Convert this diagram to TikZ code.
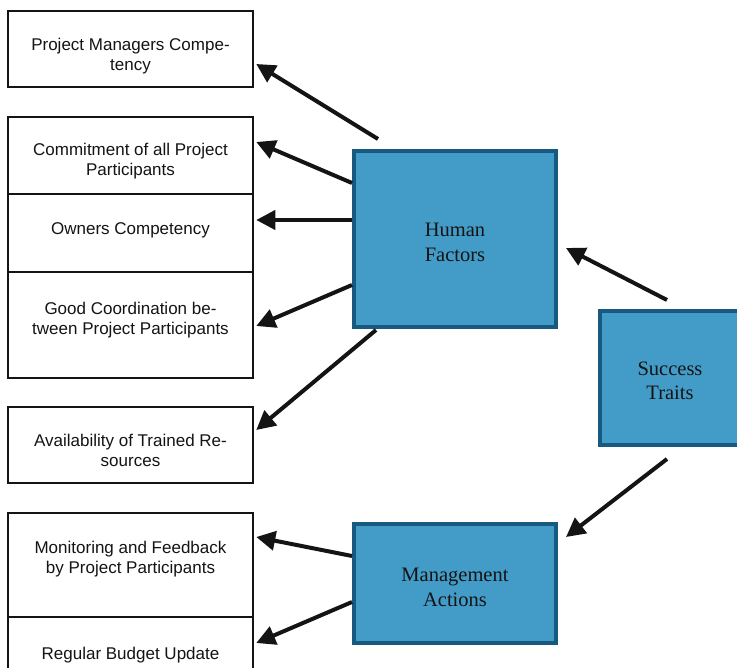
\documentclass[tikz,border=0pt]{standalone}
\usepackage{fontspec}
\usetikzlibrary{arrows.meta}
\newfontfamily\boxfont{Liberation Sans}
\newfontfamily\keyfont{Liberation Serif}
\definecolor{Ink}{HTML}{141414}
\definecolor{KeyBlue}{HTML}{439BC8}
\definecolor{KeyEdge}{HTML}{185A7F}

\tikzset{
  itembox/.style={draw=Ink,line width=2.5pt,minimum width=245pt,inner sep=0pt},
  itemtext/.style={anchor=base,align=center,inner sep=0pt,text=Ink,font=\boxfont\fontsize{17}{20}\selectfont},
  keybox/.style={draw=KeyEdge,fill=KeyBlue,line width=4pt,inner sep=0pt},
  keytext/.style={align=center,inner sep=0pt,text=Ink,font=\keyfont\fontsize{20.5}{24.5}\selectfont},
  link/.style={draw=Ink,line width=4pt,-{Triangle[length=19pt,width=19pt]}}
}

\begin{document}
\begin{tikzpicture}[x=1pt,y=-1pt]
\clip (0,0) rectangle (737,668);
\fill[white] (0,0) rectangle (737,668);
% boxes on the left
\node[itembox,minimum height=76pt] (pm) at (130.5,49) {};
\node[itembox,minimum height=77pt] (cm) at (130.5,155.5) {};
\node[itembox,minimum height=78pt] (oc) at (130.5,233) {};
\node[itembox,minimum height=106pt] (gc) at (130.5,325) {};
\node[itembox,minimum height=76pt] (av) at (130.5,445) {};
\node[itembox,minimum height=104pt] (mf) at (130.5,565) {};
\node[itembox,minimum height=76pt] (rb) at (130.5,655) {};
% base = last line of the text
\node[itemtext] (pm-t) at (130.5,71) {Project Managers Compe-\\tency};
\node[itemtext] (cm-t) at (130.5,176) {Commitment of all Project\\Participants};
\node[itemtext] (oc-t) at (130.5,235) {Owners Competency};
\node[itemtext] (gc-t) at (130.5,335) {Good Coordination be-\\tween Project Participants};
\node[itemtext] (av-t) at (130.5,467) {Availability of Trained Re-\\sources};
\node[itemtext] (mf-t) at (130.5,573) {Monitoring and Feedback\\by Project Participants};
\node[itemtext] (rb-t) at (130.5,659) {Regular Budget Update};
% blue boxes
\node[keybox,minimum width=202pt,minimum height=176pt] (hf) at (455,239) {};
\node[keybox,minimum width=140pt,minimum height=134pt] (st) at (670,378) {};
\node[keybox,minimum width=202pt,minimum height=119pt] (ma) at (455,583.5) {};
\node[keytext] (hf-t) at ([yshift=-3.5pt]hf.center) {Human\\Factors};
\node[keytext] (st-t) at ([yshift=-3pt]st.center) {Success\\Traits};
\node[keytext] (ma-t) at ([yshift=-4pt]ma.center) {Management\\Actions};
% arrows
\draw[link] ([xshift=26pt,yshift=10pt]hf.north west) -- ([xshift=2pt,yshift=-15pt]pm.east);
\draw[link] ([yshift=56pt]hf.west) -- ([xshift=2pt,yshift=13.5pt]cm.east);
\draw[link] ([yshift=19pt]hf.west) -- ([xshift=2pt,yshift=13pt]oc.east);
\draw[link] ([yshift=-46pt]hf.west) -- ([xshift=2pt,yshift=-1pt]gc.east);
\draw[link] ([xshift=24pt,yshift=-1pt]hf.south west) -- ([xshift=2pt,yshift=15pt]av.east);
\draw[link] ([xshift=-3pt,yshift=9pt]st.north) -- ([xshift=8pt,yshift=-9pt]hf.east);
\draw[link] ([xshift=-3pt,yshift=-12pt]st.south) -- ([xshift=8pt,yshift=46.5pt]ma.east);
\draw[link] ([yshift=27.5pt]ma.west) -- ([xshift=2pt,yshift=28pt]mf.east);
\draw[link] ([yshift=-18.5pt]ma.west) -- ([xshift=2pt,yshift=12pt]rb.east);
\end{tikzpicture}
\end{document}
